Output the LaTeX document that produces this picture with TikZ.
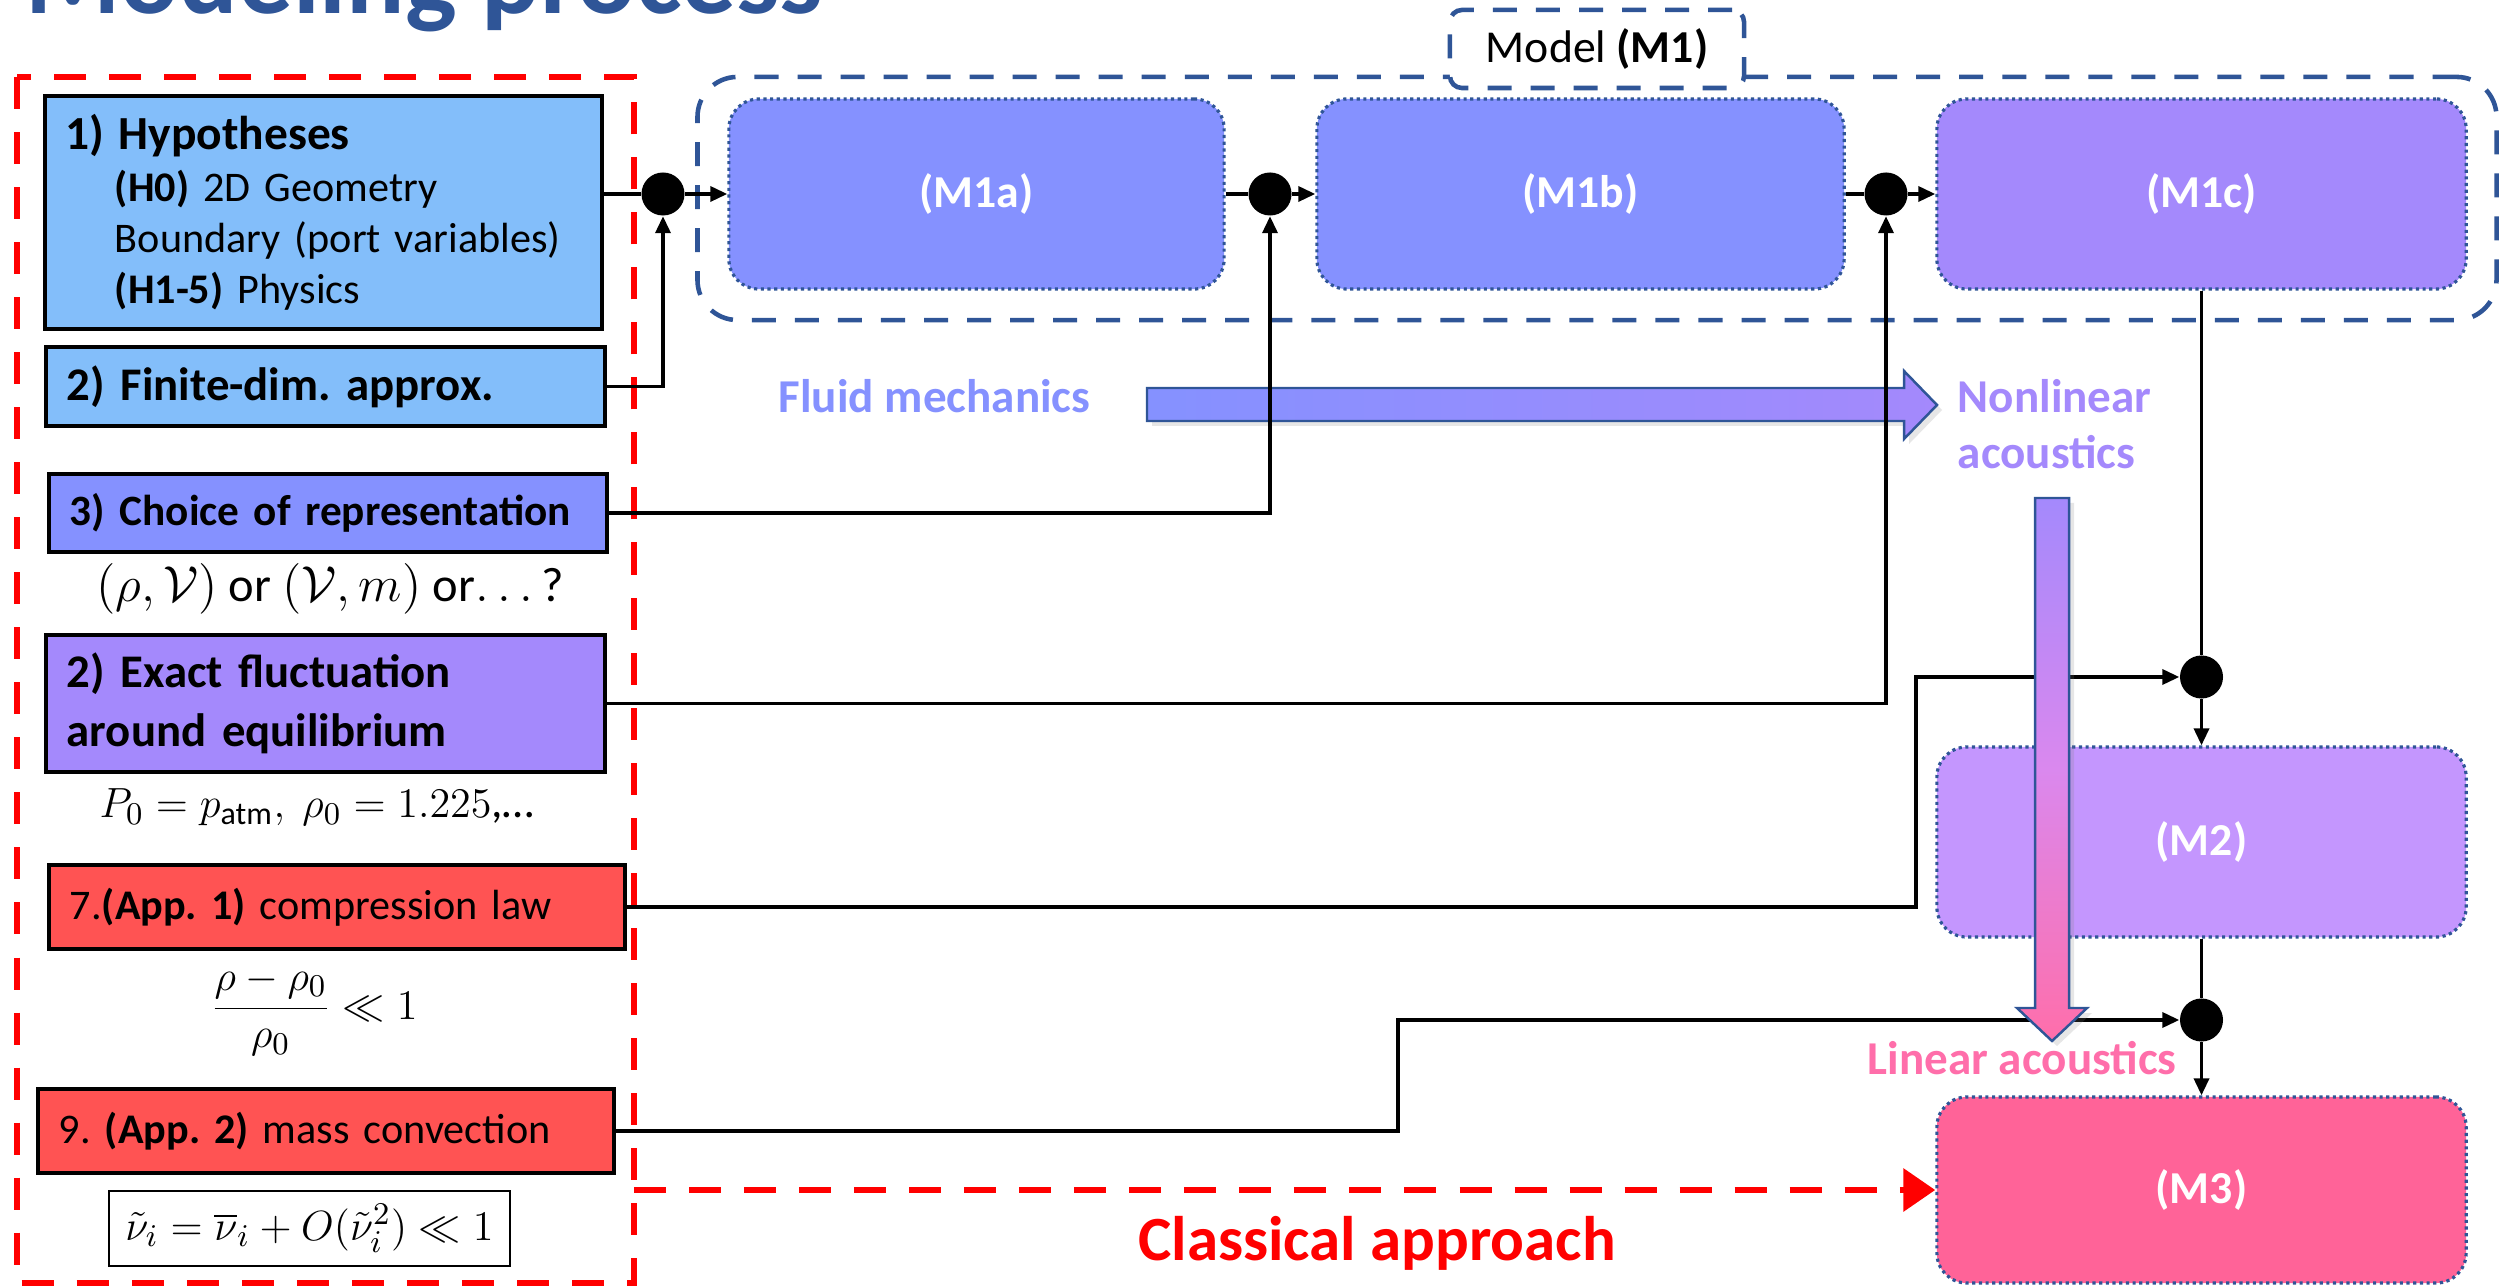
\documentclass[tikz,border=0pt]{standalone}
\usepackage{amsmath}
\usepackage{fontspec}
\setmainfont{Carlito}
\usetikzlibrary{arrows.meta,shadows}
\frenchspacing

\definecolor{deepblue}{HTML}{2F5597}
\definecolor{hypblue}{HTML}{83BEFA}
\definecolor{fluidblue}{HTML}{8591FF}
\definecolor{nlviolet}{HTML}{A489FC}
\definecolor{linviolet}{HTML}{C496FE}
\definecolor{linpink}{HTML}{FF6398}
\definecolor{apprx}{HTML}{FF5353}
\definecolor{lintext}{HTML}{FF6EAA}
\definecolor{midpink}{HTML}{DA88EE}

\begin{document}
\begin{tikzpicture}[x=0.01cm,y=-0.01cm,>={Triangle[length=0.17cm,width=0.15cm]},
  hypbox/.style={draw,line width=1.2pt,inner xsep=0.21cm,inner ysep=0pt,align=left,font=\fontsize{13.3}{16}\selectfont\bfseries},
  mbox/.style={draw=deepblue,densely dotted,line width=0.9pt,rounded corners=0.3cm,text=white,font=\fontsize{13}{15}\selectfont\bfseries,minimum height=1.9cm},
  junc/.style={circle,fill=black,inner sep=0pt,minimum size=0.43cm},
  link/.style={line width=1pt},
  reddash/.style={draw=red,line width=1.9pt,dash pattern=on 0.32cm off 0.23cm},
  bluedash/.style={draw=deepblue,line width=1.3pt,dash pattern=on 0.24cm off 0.19cm},
  cond/.style={font=\fontsize{13}{15}\selectfont,inner sep=0pt},
  bigflow/.style={draw=deepblue,line width=0.7pt,drop shadow={opacity=0.2,shadow xshift=0.05cm,shadow yshift=-0.05cm}},
  phase/.style={font=\fontsize{13.4}{15.9}\selectfont\bfseries,inner sep=0pt,align=left}]
\useasboundingbox (0,0) rectangle (2503,1286);

% title, cut by the page
\node[anchor=base west,inner sep=0pt,font=\fontsize{31}{36}\selectfont\bfseries,text=deepblue] (title) at (25,14) {Modeling process};

% left column: hypotheses and approximations
\draw[reddash] (17,77) rectangle (634,1283);
\node[hypbox,fill=hypblue,text width=5.15cm,minimum height=2.33cm,font=\fontsize{12}{14.6}\selectfont] (hyp) at (323.5,212.5)
  {{\fontsize{13.5}{14.6}\selectfont\bfseries 1) Hypotheses}\\
   \hspace*{0.49cm}\textbf{(H0)} 2D Geometry\\
   \hspace*{0.49cm}Boundary (port variables)\\
   \hspace*{0.49cm}\textbf{(H1-5)} Physics};
\node[hypbox,fill=hypblue,text width=5.17cm,minimum height=0.79cm] (fdim) at (325.5,386.5) {2) Finite-dim. approx.};
\node[hypbox,fill=fluidblue,text width=5.16cm,minimum height=0.78cm,font=\fontsize{12.3}{14}\selectfont\bfseries] (repr) at (328,513) {3) Choice of representation};
\node[cond,anchor=base,font=\fontsize{13.8}{16}\selectfont] (reprq) at (330,602) {$(\rho,\mathcal{V})$ or $(\mathcal{V},m)$ or$\ldots$\,?};
\node[hypbox,fill=nlviolet,text width=5.17cm,minimum height=1.37cm,font=\fontsize{13.3}{16.7}\selectfont\bfseries] (fluct) at (325.5,703.5) {2) Exact fluctuation\\around equilibrium};
\node[cond,anchor=base] (equil) at (317,818) {$P_0 = p_{\text{atm}},\ \rho_0 = 1.225$,\ldots};
\node[hypbox,fill=apprx,text width=5.34cm,minimum height=0.84cm,font=\fontsize{12}{14.6}\selectfont] (comp) at (337,907) {7.\textbf{(App. 1)} compression law};
\node[cond] (compq) at (314,1011) {$\dfrac{\rho-\rho_0}{\rho_0} \ll 1$};
\node[hypbox,fill=apprx,text width=5.34cm,minimum height=0.84cm,font=\fontsize{12}{14.6}\selectfont] (conv) at (326,1131) {9. \textbf{(App. 2)} mass convection};
\node[draw,line width=0.6pt,minimum width=4.01cm,minimum height=0.75cm,font=\fontsize{13}{15}\selectfont] (convq) at (309.5,1228.5) {$\tilde{\nu}_i = \overline{\nu}_i + O(\tilde{\nu}_i^2) \ll 1$};

% model M1 and its parts
\node[bluedash,rounded corners=0.4cm,minimum width=17.98cm,minimum height=2.43cm] (m1) at (1597,198.5) {};
\node[bluedash,fill=white,rounded corners=0.12cm,minimum width=2.94cm,minimum height=0.78cm,font=\fontsize{13}{15}\selectfont] (m1tag) at (1597,49) {Model \textbf{(M1)}};
\node[mbox,fill=fluidblue,minimum width=4.95cm] (m1a) at (976.5,194) {(M1a)};
\node[mbox,fill=fluidblue,minimum width=5.27cm] (m1b) at (1580.5,194) {(M1b)};
\node[mbox,fill=nlviolet,minimum width=5.29cm] (m1c) at (2201.5,194) {(M1c)};
\node[mbox,fill=linviolet,minimum width=5.29cm] (m2) at (2201.5,842) {(M2)};
\node[mbox,fill=linpink,minimum width=5.29cm,minimum height=1.86cm] (m3) at (2201.5,1190) {(M3)};

% fluid mechanics -> nonlinear acoustics
\shadedraw[bigflow,left color=fluidblue,right color=nlviolet] (1147,388) -- (1904,388) -- (1904,371) -- (1937,405) -- (1904,439) -- (1904,421) -- (1147,421) -- cycle;

\node[junc] (j1) at (663,194) {};
\node[junc] (j2) at (1270,194) {};
\node[junc] (j3) at (1886,194) {};
\node[junc] (j4) at (2201.5,677) {};
\node[junc] (j5) at (2201.5,1020) {};
\coordinate (k5) at (1916,677);
\coordinate (k6) at (1398,1020);
\coordinate (cls) at (634,1190);

\draw[link] (hyp.east |- j1) -- (j1);
\draw[link,->] (j1) -- (m1a);
\draw[link,->] (fdim.east) -| (j1);
\draw[link] (m1a.east) -- (j2);
\draw[link,->] (j2) -- (m1b);
\draw[link,->] (repr.east) -| (j2);
\draw[link] (m1b.east) -- (j3);
\draw[link,->] (j3) -- (m1c);
\draw[link,->] (fluct.east) -| (j3);
\draw[link] (m1c.south) -- (j4);
\draw[link,->] (comp.east) -| (k5) -- (j4);
\draw[link,->] (j4) -- (m2);
\draw[link] (m2.south) -- (j5);
\draw[link,->] (conv.east) -| (k6) -- (j5);
\draw[link,->] (j5) -- (m3);
\draw[reddash,-{Triangle[length=0.32cm,width=0.42cm]}] (cls) -- (m3);

% nonlinear -> linear acoustics
\shadedraw[bigflow,top color=nlviolet,bottom color=lintext,middle color=midpink] (2035,498) -- (2069,498) -- (2069,1008) -- (2087,1008) -- (2052,1041) -- (2017,1008) -- (2035,1008) -- cycle;

\node[phase,text=fluidblue,anchor=base west] (fluid) at (778,413) {Fluid mechanics};
\node[phase,text=nlviolet,anchor=north west] (nonlin) at (1957,379) {Nonlinear\\acoustics};
\node[phase,text=lintext,anchor=base west] (lin) at (1867,1074) {Linear acoustics};
\node[font=\fontsize{17.9}{20}\selectfont\bfseries,text=red,anchor=base,inner sep=0pt] (classic) at (1377,1260) {Classical approach};
\end{tikzpicture}
\end{document}
